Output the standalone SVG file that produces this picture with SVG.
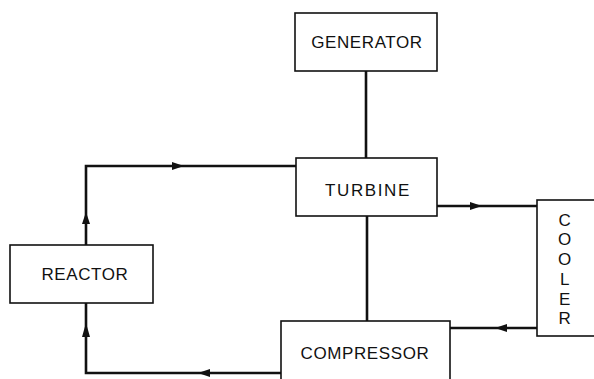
<svg xmlns="http://www.w3.org/2000/svg" width="594" height="379" viewBox="0 0 594 379">
<style>
.box{fill:#fff;stroke:#111;stroke-width:1.6}
.lbl{font-family:"Liberation Sans",Arial,sans-serif;font-size:17px;fill:#111;text-anchor:middle;letter-spacing:0.6px}
.ln{fill:none;stroke:#111;stroke-width:2.6;stroke-linejoin:miter}
.ah{fill:#111}
</style>
<rect width="594" height="379" fill="#fff"/>
<g id="connectors">
<line class="ln" x1="366" y1="71" x2="366" y2="158"/>
<polyline class="ln" points="86,245 86,166 296,166"/>
<line class="ln" x1="367" y1="216" x2="367" y2="321"/>
<line class="ln" x1="437" y1="206" x2="537" y2="206"/>
<line class="ln" x1="537" y1="328" x2="450" y2="328"/>
<polyline class="ln" points="86,303 86,373 281,373"/>
<polygon class="ah" points="184,166 172,162 172,170"/>
<polygon class="ah" points="86,212 82,224 90,224"/>
<polygon class="ah" points="86,323 82,337 90,337"/>
<polygon class="ah" points="482,206 470,202 470,210"/>
<polygon class="ah" points="495,328 507,324 507,332"/>
<polygon class="ah" points="198,373 210,369 210,377"/>
</g>
<g id="generator">
<rect class="box" x="295" y="13" width="142" height="58"/>
<text class="lbl" x="367" y="48">GENERATOR</text>
</g>
<g id="turbine">
<rect class="box" x="296" y="158" width="141" height="58"/>
<text class="lbl" x="368" y="196" style="letter-spacing:1.6px">TURBINE</text>
</g>
<g id="reactor">
<rect class="box" x="10" y="245" width="143" height="58"/>
<text class="lbl" x="85" y="280">REACTOR</text>
</g>
<g id="compressor">
<rect class="box" x="281" y="321" width="169" height="70"/>
<text class="lbl" x="365" y="359">COMPRESSOR</text>
</g>
<g id="cooler">
<rect class="box" x="537" y="200" width="70" height="136"/>
<text class="lbl" x="565" y="226">C</text>
<text class="lbl" x="565" y="245">O</text>
<text class="lbl" x="565" y="265">O</text>
<text class="lbl" x="565" y="285">L</text>
<text class="lbl" x="565" y="305">E</text>
<text class="lbl" x="565" y="324">R</text>
</g>
</svg>
